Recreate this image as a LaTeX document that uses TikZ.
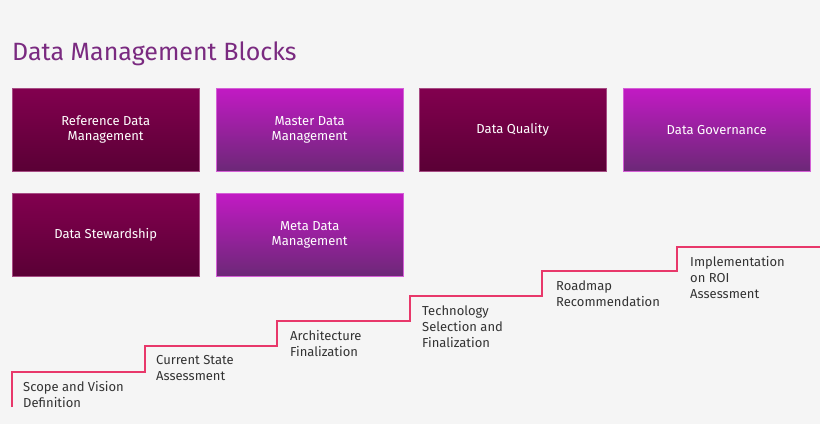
\documentclass[tikz,border=0pt]{standalone}
\usepackage{fontspec}
\setmainfont{Fira Sans}
\begin{document}
\begin{tikzpicture}[x=1pt,y=-1pt,
 dark/.style={rectangle,minimum width=187pt,minimum height=83pt,anchor=north west,top color=dkT,bottom color=dkB,draw=dkT!70!white,line width=0.4pt,text=white,font=\fontsize{13}{15}\selectfont,align=center},
 light/.style={dark,top color=ltT,bottom color=ltB,draw=ltT!70!white},
 stp/.style={anchor=north west,align=left,text=txt,font=\fontsize{13}{16}\selectfont,inner sep=0pt}]
\definecolor{dkT}{HTML}{82004F}
\definecolor{dkB}{HTML}{5A0035}
\definecolor{ltT}{HTML}{C21AC4}
\definecolor{ltB}{HTML}{6C2877}
\definecolor{txt}{HTML}{333333}
\definecolor{ttl}{HTML}{7A2A80}
\definecolor{stair}{HTML}{E8386A}
\definecolor{bg}{HTML}{F5F5F5}
\fill[bg] (0,0) rectangle (820,424);
\useasboundingbox (0,0) rectangle (820,424);
\node[anchor=base west,inner sep=0pt,text=ttl,font=\fontsize{25}{28}\selectfont] (title) at (12,60) {Data Management Blocks};
\node[dark] (rdm) at (12,88) {Reference Data\\Management};
\node[light] (mdm) at (216,88) {Master Data\\Management};
\node[dark] (dq) at (419,88) {Data Quality};
\node[light] (dg) at (623,88) {Data Governance};
\node[dark] (ds) at (12,193) {Data Stewardship};
\node[light] (meta) at (216,193) {Meta Data\\Management};
\draw[stair,line width=2pt] (12,407) -- (12,372) -- (145,372) -- (145,346) -- (277,346) -- (277,321) -- (410,321) -- (410,296) -- (542,296) -- (542,271) -- (677,271) -- (677,247) -- (820,247);
\node[stp] (s1) at (23,381) {Scope and Vision\\Definition};
\node[stp] (s2) at (156,355) {Current State\\Assessment};
\node[stp] (s3) at (290,330) {Architecture\\Finalization};
\node[stp] (s4) at (422,306) {Technology\\Selection and\\Finalization};
\node[stp] (s5) at (556,281) {Roadmap\\Recommendation};
\node[stp] (s6) at (690,256) {Implementation\\on ROI\\Assessment};
\end{tikzpicture}
\end{document}
